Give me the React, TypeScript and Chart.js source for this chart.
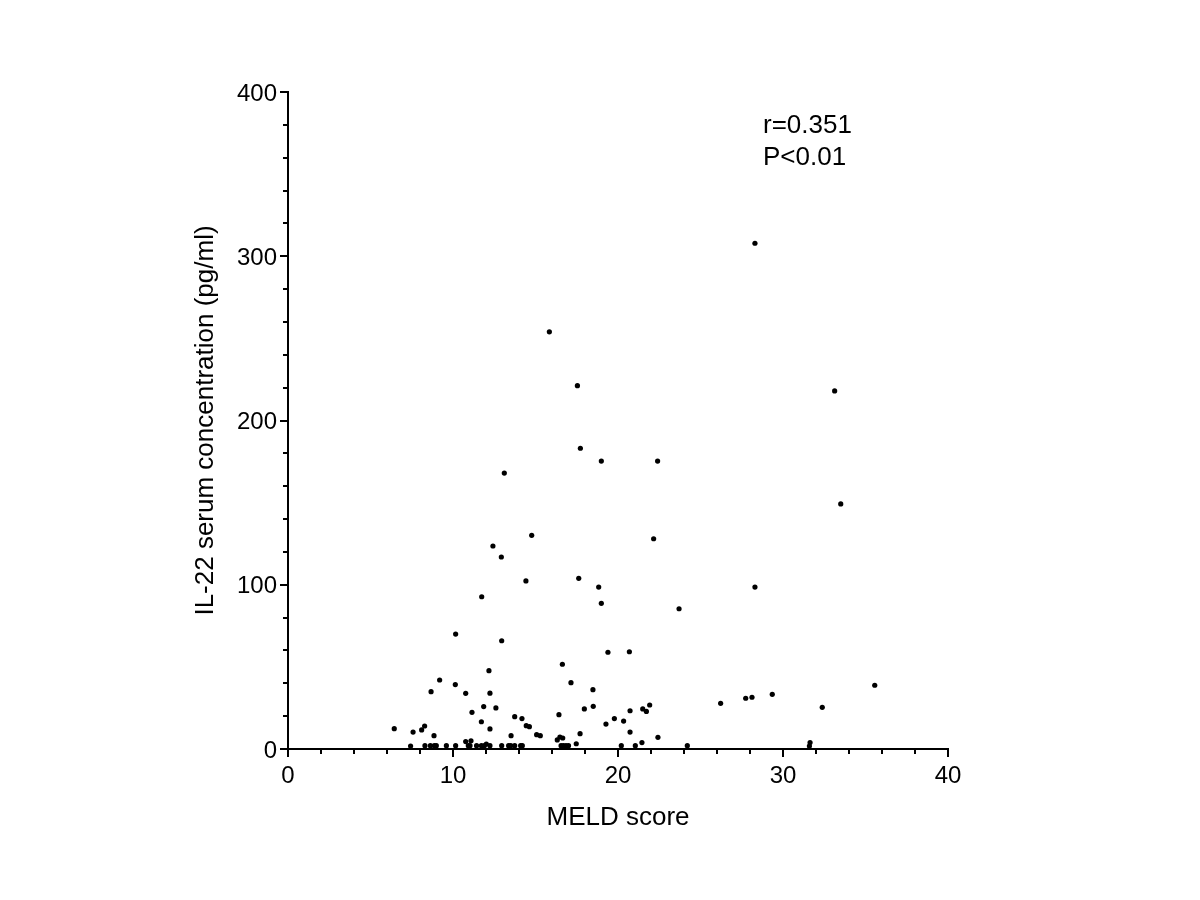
import React, { useEffect, useRef } from "react";
import { Chart, registerables } from "chart.js";

Chart.register(...registerables);

const meldScores: number[] = [
  6.44, 7.43, 7.58, 8.1, 8.28, 8.3, 8.63, 8.87, 8.99, 8.85, 8.67, 9.19, 9.6, 10.16, 10.14, 10.16,
  10.77, 10.77, 10.93, 11.03, 11.09, 11.15, 11.43, 11.72, 11.86, 11.72, 11.9, 12.02, 12.18, 12.24,
  12.24, 12.6, 12.24, 12.95, 12.95, 13.37, 13.5, 13.52, 13.74, 13.74, 14.1, 14.2, 14.18, 14.44,
  14.63, 15.07, 15.29, 16.42, 16.63, 17.15, 16.32, 16.48, 16.65, 16.55, 16.69, 16.85, 17.0, 17.47,
  17.7, 17.96, 18.48, 18.5, 18.99, 19.39, 19.27, 19.78, 20.2, 20.34, 20.69, 20.73, 20.73, 21.05,
  21.45, 21.5, 21.72, 21.92, 22.42, 23.7, 24.2, 26.22, 27.74, 28.12, 29.35, 31.64, 31.6, 32.38,
  35.56, 17.72, 18.99, 22.4, 13.11, 14.77, 12.42, 12.93, 22.16, 14.42, 17.62, 18.83, 11.74, 15.84,
  17.54, 28.3, 33.13, 33.5, 28.3,
];

const il22Values: number[] = [
  12.4, 1.8, 10.3, 11.6, 14, 2, 2, 2, 2, 8.1, 34.9, 42, 2, 70, 39.2, 2,
  33.9, 4.5, 2, 2, 5, 22.3, 2, 16.6, 25.8, 2, 2, 3, 47.7, 34,
  12.2, 25, 2, 65.9, 2, 2, 2, 8.1, 19.7, 2, 2, 2, 18.5, 14.2,
  13.6, 8.7, 8.1, 20.9, 51.6, 40.4, 5.5, 7.3, 6.7, 2, 2, 2, 2, 3.2,
  9.3, 24.4, 36.1, 26, 88.7, 58.9, 15.2, 18.5, 2, 17, 59.2, 23.3, 10.3, 2,
  3.9, 24.4, 22.9, 26.8, 7.1, 85.4, 2, 27.8, 30.9, 31.5, 33.3, 3.9, 1.8, 25.4,
  38.8, 183.1, 175.3, 175.3, 168, 130.1, 123.6, 116.9, 128, 102.3, 103.9, 98.6, 92.7, 254,
  221.2, 307.9, 218, 149.2, 98.6,
];

const xMajorTicks: number[] = [0, 10, 20, 30, 40];
const yMajorTicks: number[] = [0, 100, 200, 300, 400];
const xMinorStep = 2;
const yMinorStep = 20;

const xTitle = "MELD score";
const yTitle = "IL-22 serum concentration (pg/ml)";
const statLines: string[] = ["r=0.351", "P<0.01"];

const FONT = 'Arial, "Liberation Sans", Helvetica, sans-serif';

const tickPlugin = {
  id: "customTicks",
  afterDraw(chart: any) {
    const ctx = chart.ctx;
    const xs = chart.scales.x;
    const ys = chart.scales.y;
    const area = chart.chartArea;
    ctx.save();
    ctx.strokeStyle = "#000";
    ctx.lineWidth = 2;
    ctx.beginPath();
    for (let v = xs.min; v <= xs.max + 1e-9; v += xMinorStep) {
      const px = Math.round(xs.getPixelForValue(v));
      const len = xMajorTicks.includes(v) ? 8 : 5;
      ctx.moveTo(px, area.bottom);
      ctx.lineTo(px, area.bottom + len);
    }
    for (let v = ys.min; v <= ys.max + 1e-9; v += yMinorStep) {
      const py = Math.round(ys.getPixelForValue(v));
      const len = yMajorTicks.includes(v) ? 8 : 5;
      ctx.moveTo(area.left, py);
      ctx.lineTo(area.left - len, py);
    }
    ctx.stroke();

    ctx.fillStyle = "#000";
    ctx.font = "26px " + FONT;
    ctx.textAlign = "left";
    ctx.textBaseline = "alphabetic";
    ctx.fillText(statLines[0], 763, 133);
    ctx.fillText(statLines[1], 763, 165);
    ctx.restore();
  },
};

export default function App() {
  const canvasRef = useRef<HTMLCanvasElement | null>(null);

  useEffect(() => {
    if (!canvasRef.current) return;
    const points = meldScores.map((x, i) => ({ x, y: il22Values[i] }));
    const chart = new Chart(canvasRef.current, {
      type: "scatter",
      data: {
        datasets: [
          {
            data: points,
            backgroundColor: "#000",
            borderColor: "#000",
            borderWidth: 0,
            pointRadius: 2.6,
            pointHoverRadius: 2.6,
          },
        ],
      },
      options: {
        responsive: false,
        animation: false,
        events: [],
        layout: { padding: { left: 0, right: 252, top: 92, bottom: 0 } },
        plugins: {
          legend: { display: false },
          tooltip: { enabled: false },
        },
        scales: {
          x: {
            type: "linear",
            min: 0,
            max: 40,
            afterFit: (scale: any) => {
              scale.height = 151;
            },
            afterBuildTicks: (scale: any) => {
              scale.ticks = xMajorTicks.map((v) => ({ value: v }));
            },
            grid: { display: false, drawTicks: false },
            border: { display: true, color: "#000", width: 2 },
            ticks: {
              color: "#000",
              font: { family: FONT, size: 24 },
              padding: 13,
              maxRotation: 0,
            },
            title: {
              display: true,
              text: xTitle,
              color: "#000",
              font: { family: FONT, size: 26 },
              padding: { top: 0, bottom: 67 },
            },
          },
          y: {
            type: "linear",
            min: 0,
            max: 400,
            afterFit: (scale: any) => {
              scale.width = 288;
            },
            afterBuildTicks: (scale: any) => {
              scale.ticks = yMajorTicks.map((v) => ({ value: v }));
            },
            grid: { display: false, drawTicks: false },
            border: { display: true, color: "#000", width: 2 },
            ticks: {
              color: "#000",
              font: { family: FONT, size: 24 },
              padding: 11,
              labelOffset: 2,
            },
            title: {
              display: true,
              text: yTitle,
              color: "#000",
              font: { family: FONT, size: 26 },
              padding: { top: 190, bottom: 0 },
            },
          },
        },
      },
      plugins: [tickPlugin],
    });
    return () => chart.destroy();
  }, []);

  return (
    <div style={{ position: "absolute", left: 0, top: 0, width: 1200, height: 900, background: "#fff" }}>
      <canvas ref={canvasRef} width={1200} height={900} style={{ display: "block" }} />
    </div>
  );
}
